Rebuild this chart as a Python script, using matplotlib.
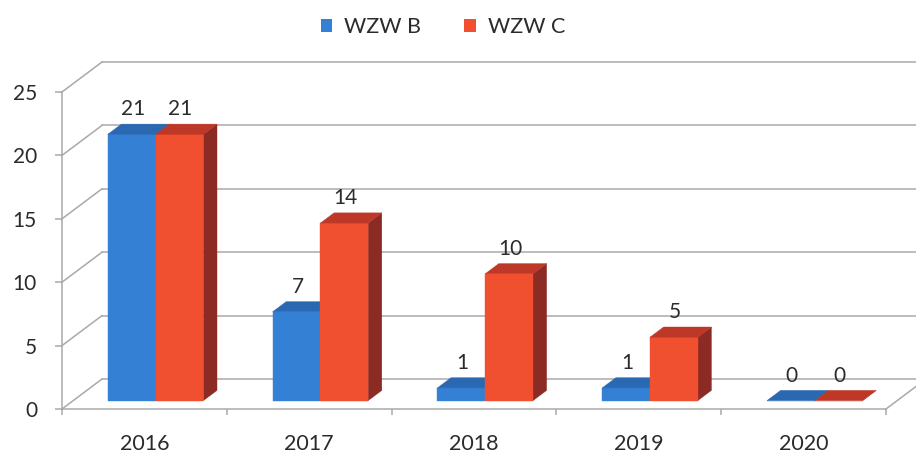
import matplotlib.pyplot as plt
from matplotlib.patches import Polygon, Patch

plt.rcParams['font.family'] = ['Lato', 'DejaVu Sans']

# --- data ---
years = ['2016', '2017', '2018', '2019', '2020']
wzw_b = [21, 7, 1, 1, 0]
wzw_c = [21, 14, 10, 5, 0]
series_names = ['WZW B', 'WZW C']
y_ticks = [0, 5, 10, 15, 20, 25]

# --- style ---
FRONT = ['#3380D4', '#F0502F']
TOP = ['#2A68B2', '#BE3828']
SIDE = ['#24579A', '#8C2A24']
GRID = '#A9A9A9'
TEXT = '#2B2B2B'

W, H = 916, 458
fig = plt.figure(figsize=(W / 100, H / 100), dpi=100)
fig.patch.set_facecolor('white')

# front plane of the fake 3D box, in pixels
x_left, x_right = 62, 886
y_bottom, y_top = 409, 92
ax = fig.add_axes([x_left / W, (H - y_bottom) / H,
                   (x_right - x_left) / W, (y_bottom - y_top) / H])
ax.set_xlim(0, len(years))
ax.set_ylim(0, 25)
ax.patch.set_alpha(0)

# depth of the box, converted into data units
DX = 40 / ((x_right - x_left) / len(years))
DY = 30 / ((y_bottom - y_top) / 25)


def proj(x, y, d):
    return (x + d * DX, y + d * DY)


# walls: back grid lines, left-wall diagonals, floor edge
xmax = len(years)
for t in y_ticks:
    p0, p1 = proj(0, t, 1), proj(xmax, t, 1)
    ax.plot([p0[0], p1[0]], [p0[1], p1[1]], color=GRID, lw=1.1,
            clip_on=False, zorder=1)
    ax.plot([0, DX], [t, t + DY], color=GRID, lw=1.1, clip_on=False, zorder=1)
ax.plot([xmax, xmax + DX], [0, DY], color=GRID, lw=1.1, clip_on=False, zorder=1)

# bars
bar_w = 0.29
gap = (1 - 2 * bar_w) / 2
d_front, d_back = 0.28, 0.62
for i in range(len(years)):
    for j, vals in enumerate([wzw_b, wzw_c]):
        v = vals[i]
        x0 = i + gap + j * bar_w
        x1 = x0 + bar_w
        side = [proj(x1, 0, d_front), proj(x1, v, d_front),
                proj(x1, v, d_back), proj(x1, 0, d_back)]
        front = [proj(x0, 0, d_front), proj(x1, 0, d_front),
                 proj(x1, v, d_front), proj(x0, v, d_front)]
        top = [proj(x0, v, d_front), proj(x1, v, d_front),
               proj(x1, v, d_back), proj(x0, v, d_back)]
        z = 3 + i * 0.1 + j * 0.01
        for pts, col in [(side, SIDE[j]), (front, FRONT[j]), (top, TOP[j])]:
            ax.add_patch(Polygon(pts, closed=True, facecolor=col,
                                 edgecolor=col, lw=0.3, clip_on=False,
                                 zorder=z))
        xc, yc = proj((x0 + x1) / 2, v, d_front)
        ax.annotate(str(v), (xc, yc), xytext=(0.7, 18),
                    textcoords='offset points', ha='center', va='center',
                    fontsize=15, color=TEXT, zorder=10,
                    annotation_clip=False)

# axes lines and ticks
for s in ['top', 'right']:
    ax.spines[s].set_visible(False)
for s in ['left', 'bottom']:
    ax.spines[s].set_color(GRID)
    ax.spines[s].set_linewidth(1.1)
    ax.spines[s].set_zorder(2)

ax.set_yticks(y_ticks)
ax.set_yticklabels([str(t) for t in y_ticks])
ax.tick_params(axis='y', length=5, width=1.1, color=GRID, pad=13,
               labelsize=15, labelcolor=TEXT)
ax.set_xticks(range(len(years) + 1))
ax.set_xticklabels([])
ax.tick_params(axis='x', which='major', length=4.5, width=1.1, color=GRID)
ax.set_xticks([i + 0.5 for i in range(len(years))], minor=True)
ax.set_xticklabels(years, minor=True)
ax.tick_params(axis='x', which='minor', length=0, pad=18, labelsize=15.5,
               labelcolor=TEXT)

handles = [Patch(facecolor=FRONT[k], edgecolor='none', label=series_names[k])
           for k in range(2)]
fig.legend(handles=handles, loc='center', bbox_to_anchor=(443 / W, 1 - 27 / H),
           ncol=2, frameon=False, fontsize=15.5, handlelength=0.55,
           handleheight=0.55, handletextpad=0.55, columnspacing=2.0,
           labelcolor=TEXT)

fig.savefig('out.png', dpi=100, facecolor='white')
